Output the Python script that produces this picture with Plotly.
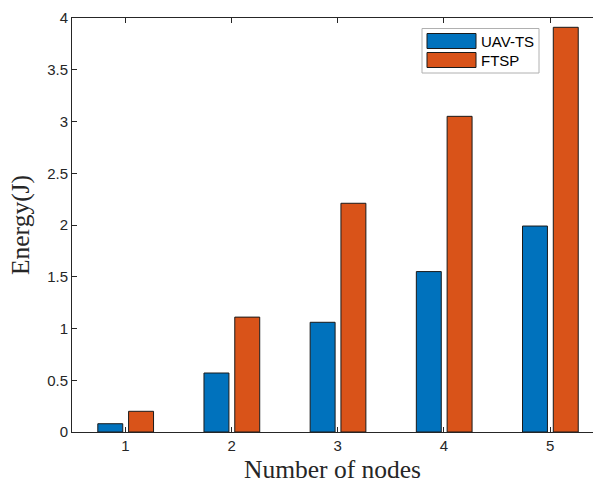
import plotly.graph_objects as go

nodes = [1, 2, 3, 4, 5]
uav_ts = [0.08, 0.57, 1.06, 1.55, 1.99]
ftsp = [0.20, 1.11, 2.21, 3.05, 3.91]
series_names = ["UAV-TS", "FTSP"]
colors = ["#0072BD", "#D95319"]
ytick_vals = [0, 0.5, 1, 1.5, 2, 2.5, 3, 3.5, 4]
ytick_text = ["0", "0.5", "1", "1.5", "2", "2.5", "3", "3.5", "4"]

W, H = 593, 488
ml, mt, mb, mr = 72, 18, 56, 0

fig = go.Figure()
bw = 0.235
offsets = [-0.26, 0.03]
for vals, name, col, off in zip([uav_ts, ftsp], series_names, colors, offsets):
    fig.add_trace(go.Bar(
        x=nodes, y=vals, name=name, width=bw, offset=off,
        marker=dict(color=col, line=dict(color="#1a1a1a", width=1)),
        showlegend=False,
    ))

axcol = "#262626"
tickfont = dict(family="Liberation Sans, Arial, sans-serif", size=15, color=axcol)
titlefont = dict(family="Liberation Serif, Times New Roman, serif", size=25.5, color=axcol)
fig.update_layout(
    width=W, height=H,
    margin=dict(l=ml, r=mr, t=mt, b=mb, pad=0),
    paper_bgcolor="white", plot_bgcolor="white",
    barmode="overlay",
    xaxis=dict(
        range=[0.497, 5.404], tickvals=nodes, ticktext=[str(n) for n in nodes],
        showline=True, linecolor=axcol, linewidth=1, mirror="ticks",
        ticks="inside", ticklen=5, tickcolor=axcol, showgrid=False, zeroline=False,
        tickfont=tickfont,
        title=dict(text="Number of nodes", standoff=7, font=titlefont),
    ),
    yaxis=dict(
        range=[0, 4], tickvals=ytick_vals, ticktext=ytick_text,
        showline=True, linecolor=axcol, linewidth=1, mirror=False,
        ticks="inside", ticklen=5, tickcolor=axcol, showgrid=False, zeroline=False,
        tickfont=tickfont,
        title=dict(text="Energy(J)", standoff=10, font=titlefont),
    ),
)

# MATLAB-style legend box drawn in paper coordinates
pw = W - ml - mr
ph = H - mt - mb
def px(xp):
    return (xp - ml) / pw
def py(yp):
    return 1 - (yp - mt) / ph

fig.add_shape(type="rect", xref="paper", yref="paper",
              x0=px(422), x1=px(539), y0=py(73), y1=py(28.5),
              line=dict(color="#b0b0b0", width=1), fillcolor="white", layer="above")
for i, (name, col) in enumerate(zip(series_names, colors)):
    yc = 41 + i * 19
    fig.add_shape(type="rect", xref="paper", yref="paper",
                  x0=px(427), x1=px(476), y0=py(yc + 7.5), y1=py(yc - 7.5),
                  line=dict(color="#1a1a1a", width=1), fillcolor=col, layer="above")
    fig.add_annotation(xref="paper", yref="paper", x=px(479), y=py(yc),
                       text=name, showarrow=False, xanchor="left", yanchor="middle",
                       font=dict(family="Liberation Sans, Arial, sans-serif", size=15, color="black"))

fig.write_html("out.html")
